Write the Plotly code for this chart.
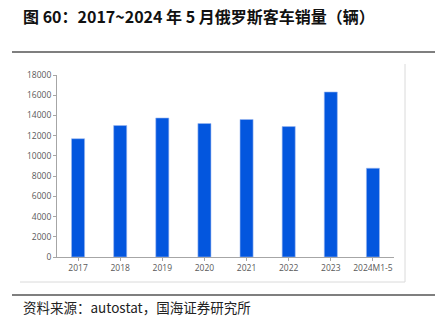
import plotly.graph_objects as go

categories = ["2017", "2018", "2019", "2020", "2021", "2022", "2023", "2024M1-5"]
sales = [11700, 13000, 13750, 13200, 13600, 12900, 16320, 8780]
y_ticks = [0, 2000, 4000, 6000, 8000, 10000, 12000, 14000, 16000, 18000]
y_tick_labels = [str(v) for v in y_ticks]

W, H = 435, 320
L, R, T, B = 57, 394, 75, 257  # plot area pixel bounds

def px(x):
    return (x - L) / (R - L)

def py(y):
    return (B - y) / (B - T)

fig = go.Figure()
fig.add_trace(go.Bar(
    x=categories, y=sales,
    marker=dict(color="#0356DE", line=dict(color="#9DB8F0", width=0.6)),
    width=0.31,
))

shapes = [
    dict(type="line", xref="paper", yref="paper", x0=px(12), x1=px(435), y0=py(52), y1=py(52),
         line=dict(color="#555555", width=1.6)),
    dict(type="line", xref="paper", yref="paper", x0=px(12), x1=px(435), y0=py(295), y1=py(295),
         line=dict(color="#555555", width=1.6)),
    dict(type="line", xref="paper", yref="paper", x0=px(405), x1=px(405), y0=py(64), y1=py(282),
         line=dict(color="#DADADA", width=1)),
    dict(type="line", xref="paper", yref="paper", x0=px(20), x1=px(405), y0=py(282), y1=py(282),
         line=dict(color="#DADADA", width=1)),
]

annotations = [
    dict(text="<b>图 60：2017~2024 年 5 月俄罗斯客车销量（辆）</b>", xref="paper", yref="paper",
         x=px(21), y=py(16), xanchor="left", yanchor="middle", showarrow=False,
         font=dict(family="Noto Sans CJK SC", size=16, color="#111111")),
    dict(text="资料来源：autostat，国海证券研究所", xref="paper", yref="paper",
         x=px(21), y=py(307), xanchor="left", yanchor="middle", showarrow=False,
         font=dict(family="Noto Sans CJK SC", size=13.5, color="#222222")),
]

fig.update_layout(
    width=W, height=H,
    margin=dict(l=L, r=W - R, t=T, b=H - B, pad=0),
    paper_bgcolor="white", plot_bgcolor="white",
    showlegend=False,
    shapes=shapes, annotations=annotations,
    xaxis=dict(
        type="category", showline=True, linecolor="#A6A6A6", linewidth=1,
        ticks="outside", ticklen=3, tickcolor="#A6A6A6", showgrid=False,
        tickfont=dict(family="Open Sans", size=8.5, color="#595959"),
        range=[-0.5, 7.5], fixedrange=True,
    ),
    yaxis=dict(
        range=[0, 18000], tickvals=y_ticks, ticktext=y_tick_labels,
        showline=True, linecolor="#A6A6A6", linewidth=1,
        ticks="outside", ticklen=3, tickcolor="#A6A6A6", showgrid=False, zeroline=False,
        tickfont=dict(family="Open Sans", size=8.5, color="#595959"),
        fixedrange=True,
    ),
)

fig.write_html(
    "out.html",
    config={"displayModeBar": False},
    post_script="document.body.style.margin='0';document.body.style.overflow='hidden';",
)
